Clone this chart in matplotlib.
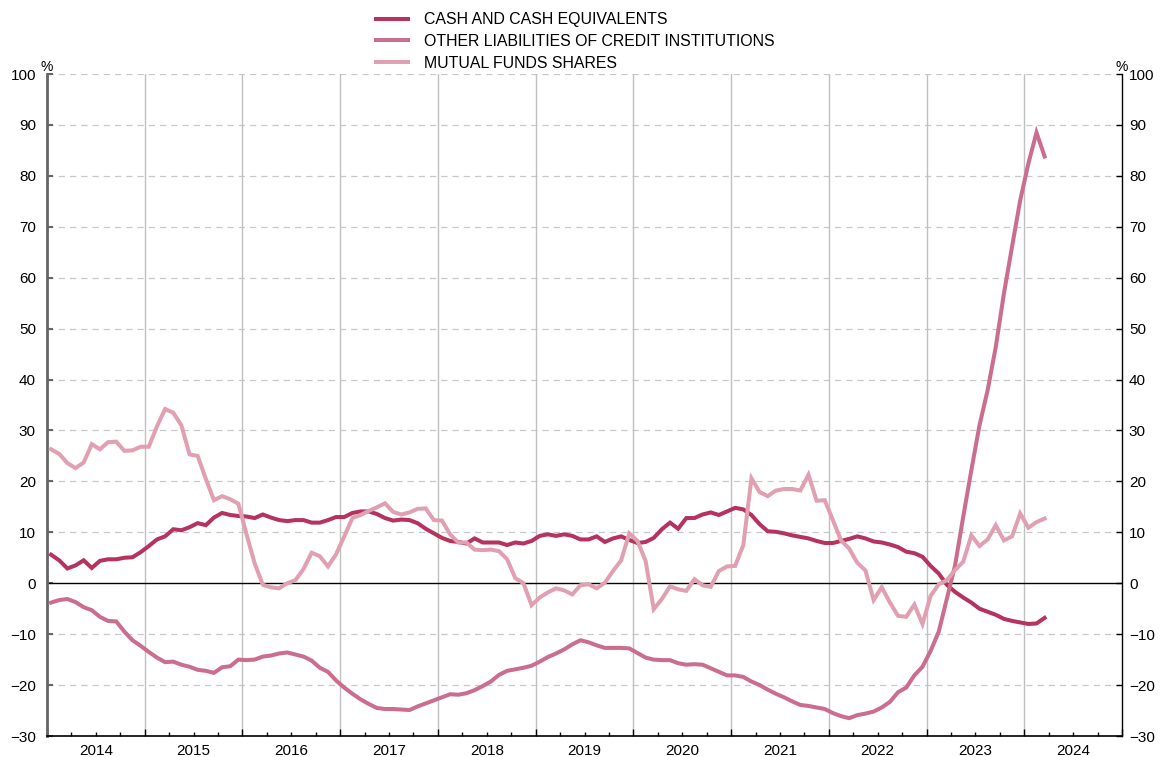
import numpy as np
import matplotlib
matplotlib.use('Agg')
import matplotlib.pyplot as plt
import matplotlib.transforms as mtransforms

plt.rcParams['font.family'] = ['Liberation Sans', 'DejaVu Sans']

# monthly values, Jan 2014 - Mar 2024 (%)
cash = [5.6, 4.5, 2.9, 3.5, 4.5, 3.0, 4.4, 4.7, 4.7, 5.0, 5.1, 6.1,
        7.3, 8.6, 9.2, 10.6, 10.4, 11.0, 11.8, 11.4, 12.9, 13.8, 13.4, 13.2,
        13.1, 12.8, 13.5, 12.9, 12.4, 12.2, 12.4, 12.4, 11.9, 11.9, 12.4, 13.0,
        13.0, 13.8, 14.1, 14.1, 13.6, 12.8, 12.3, 12.5, 12.4, 11.8, 10.7, 9.8,
        8.9, 8.3, 8.1, 7.8, 8.8, 8.0, 8.0, 8.0, 7.5, 8.0, 7.8, 8.3,
        9.3, 9.6, 9.3, 9.6, 9.3, 8.6, 8.6, 9.2, 8.1, 8.8, 9.2, 8.5,
        7.9, 8.1, 8.9, 10.6, 11.9, 10.7, 12.8, 12.8, 13.5, 13.9, 13.4, 14.1,
        14.8, 14.5, 13.4, 11.6, 10.2, 10.1, 9.8, 9.4, 9.1, 8.8, 8.3, 7.9,
        7.9, 8.3, 8.7, 9.2, 8.8, 8.2, 8.0, 7.6, 7.1, 6.2, 5.9, 5.2,
        3.4, 1.9, -0.3, -1.7, -2.8, -3.8, -5.0, -5.6, -6.2, -7.0, -7.4, -7.7,
        -8.0, -7.9, -6.8]

other_liab = [-3.8, -3.3, -3.1, -3.7, -4.7, -5.3, -6.6, -7.4, -7.5, -9.5, -11.2, -12.3,
              -13.5, -14.6, -15.5, -15.4, -16.0, -16.4, -17.0, -17.2, -17.6, -16.5, -16.3, -15.0,
              -15.1, -15.0, -14.4, -14.2, -13.8, -13.6, -14.0, -14.4, -15.2, -16.6, -17.4, -19.1,
              -20.5, -21.7, -22.8, -23.7, -24.5, -24.7, -24.7, -24.8, -24.9, -24.2, -23.6, -23.0,
              -22.4, -21.8, -21.9, -21.6, -21.0, -20.2, -19.3, -18.0, -17.2, -16.9, -16.6, -16.2,
              -15.4, -14.5, -13.8, -13.0, -12.0, -11.2, -11.6, -12.2, -12.7, -12.7, -12.7, -12.8,
              -13.7, -14.6, -15.0, -15.1, -15.1, -15.7, -16.0, -15.9, -16.0, -16.7, -17.4, -18.1,
              -18.1, -18.4, -19.3, -20.0, -20.9, -21.7, -22.4, -23.2, -23.9, -24.1, -24.4, -24.7,
              -25.5, -26.1, -26.5, -25.9, -25.6, -25.2, -24.4, -23.3, -21.4, -20.5, -18.1, -16.4,
              -13.3, -9.5, -3.0, 3.5, 13.0, 22.2, 31.0, 37.9, 46.4, 56.9, 66.1, 75.2,
              82.4, 88.5, 83.8]

mutual_funds = [26.3, 25.4, 23.6, 22.6, 23.7, 27.3, 26.3, 27.7, 27.8, 26.0, 26.1, 26.8,
                26.8, 30.8, 34.2, 33.5, 31.0, 25.3, 25.0, 20.5, 16.3, 17.1, 16.5, 15.6,
                9.6, 3.9, -0.3, -0.8, -1.0, 0.0, 0.6, 2.8, 6.0, 5.3, 3.3, 5.7,
                9.2, 12.8, 13.4, 14.2, 14.9, 15.7, 14.0, 13.5, 13.9, 14.6, 14.7, 12.4,
                12.3, 9.6, 8.0, 8.0, 6.6, 6.5, 6.6, 6.3, 4.7, 1.0, 0.0, -4.3,
                -2.8, -1.8, -1.0, -1.4, -2.2, -0.4, -0.2, -1.0, 0.1, 2.4, 4.5, 9.8,
                8.3, 4.4, -5.1, -3.1, -0.6, -1.2, -1.5, 0.8, -0.4, -0.7, 2.4, 3.3,
                3.4, 7.5, 20.6, 17.9, 17.1, 18.2, 18.5, 18.5, 18.2, 21.3, 16.2, 16.3,
                12.4, 8.4, 6.8, 4.0, 2.5, -3.3, -0.8, -3.8, -6.4, -6.6, -4.2, -8.0,
                -2.5, -0.2, 0.6, 2.6, 4.2, 9.4, 7.3, 8.6, 11.4, 8.4, 9.2, 13.7,
                10.9, 12.0, 12.7]

years = list(range(2014, 2025))
labels = ['CASH AND CASH EQUIVALENTS', 'OTHER LIABILITIES OF CREDIT INSTITUTIONS',
          'MUTUAL FUNDS SHARES']
colors = ['#B5335C', '#CA6E8B', '#E0A0B2']

x = 2014 + (np.arange(len(cash)) + 0.5) / 12

fig = plt.figure(figsize=(11.63, 7.57), dpi=100)
ax = fig.add_axes([47 / 1163, 1 - 736 / 757, (1122 - 47) / 1163, (736 - 74) / 757])

for y, lab, c in zip([cash, other_liab, mutual_funds], labels, colors):
    ax.plot(x, y, color=c, lw=2.9, label=lab, solid_joinstyle='miter', zorder=3)

ax.set_xlim(2014, 2025)
ax.set_ylim(-30, 100)
ax.set_yticks(range(-30, 101, 10))
ax.set_xticks(range(2014, 2026))
ax.set_xticklabels([])
ax.set_xticks(np.arange(2014, 2025, 0.25), minor=True)
ax.tick_params(axis='x', which='major', direction='in', length=5, width=1, color='black')
ax.tick_params(axis='x', which='minor', direction='in', length=3, width=1, color='black')
ax.tick_params(axis='y', labelsize=11, direction='in', length=4, width=1.5,
               color='#666666', pad=8)

trans = mtransforms.blended_transform_factory(ax.transData, ax.transAxes)
for yr in years:
    ax.text(yr + 0.5, -0.012, str(yr), transform=trans, ha='center', va='top', fontsize=11)

for yv in range(-30, 101, 10):
    if yv == 0:
        ax.axhline(0, color='black', lw=1, zorder=2)
    elif yv != -30:
        ax.axhline(yv, color='#c8c8c8', lw=0.9, ls=(0, (5, 4)), zorder=1)
for yr in range(2015, 2025):
    ax.axvline(yr, color='#c0c0c0', lw=1, zorder=1)

ax.spines['top'].set_visible(False)
ax.spines['left'].set_color('#666666')
ax.spines['left'].set_linewidth(2)
ax.spines['right'].set_color('black')
ax.spines['right'].set_linewidth(1)
ax.spines['bottom'].set_color('black')
ax.spines['bottom'].set_linewidth(1.2)

ax2 = ax.twinx()
ax2.set_ylim(-30, 100)
ax2.set_yticks(range(-30, 101, 10))
ax2.tick_params(axis='y', labelsize=11, direction='in', length=4, width=1,
                color='black', pad=5)
for side in ['top', 'left', 'bottom', 'right']:
    ax2.spines[side].set_visible(False)

ax.text(0, 1.0, '%', transform=ax.transAxes, ha='center', va='bottom', fontsize=10)
ax.text(1, 1.0, '%', transform=ax.transAxes, ha='center', va='bottom', fontsize=10)

fig.legend(loc='upper left', bbox_to_anchor=(370 / 1163, 1 - 6 / 757), frameon=False,
           fontsize=11.4, handlelength=2.0, handletextpad=1.0, labelspacing=0.42,
           borderaxespad=0)

fig.savefig('out.png', dpi=100)
